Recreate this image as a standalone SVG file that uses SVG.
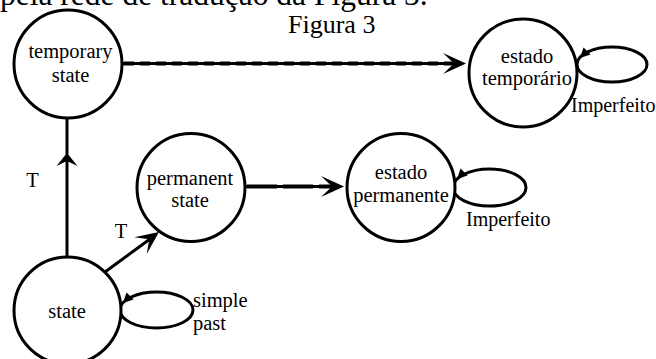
<svg xmlns="http://www.w3.org/2000/svg" width="656" height="359" viewBox="0 0 656 359">
<style>
  .node { fill: #fff; stroke: #000; stroke-width: 3; }
  .loop { fill: none; stroke: #000; stroke-width: 3; }
  .edge { fill: none; stroke: #000; stroke-width: 3; }
  .dash { fill: none; stroke: #000; stroke-width: 4; stroke-dasharray: 10 6; }
  .head { fill: #000; stroke: none; }
  .t { font-family: 'Liberation Serif', 'Times New Roman', serif; fill: #000; }
  .lbl { font-size: 20.5px; }
  .mid { text-anchor: middle; }
</style>
<defs>
  <path id="stealth" d="M0,0 L-23,-10.5 L-12,0 L-23,10.5 Z"/>
  <path id="midhead" d="M0,0 L-13,-10.5 L-8,0 L-13,10.5 Z"/>
  <path id="small" d="M0,0 L-10,-5 L-10,5 Z"/>
</defs>
<rect width="656" height="359" fill="#fff"/>
<text class="t" x="0" y="4.5" style="font-size:31.5px">pela rede de tradução da Figura 3.</text>
<text class="t" x="288" y="33" style="font-size:26px">Figura 3</text>

<g id="connectors">
  <line class="edge" x1="122" y1="63.5" x2="456" y2="63.5"/>
  <line class="dash" x1="124" y1="63.5" x2="454" y2="63.5"/>
  <use href="#stealth" class="head" transform="translate(466,63.5)"/>

  <line class="edge" x1="245" y1="186.5" x2="334" y2="186.5"/>
  <line class="dash" x1="247" y1="186.5" x2="332" y2="186.5" style="stroke-dasharray:30 6"/>
  <use href="#stealth" class="head" transform="translate(344,186.5)"/>

  <line class="edge" x1="67" y1="257" x2="67" y2="118"/>
  <use href="#midhead" class="head" transform="translate(67,153) rotate(-90)"/>

  <line class="edge" x1="105" y1="272" x2="150" y2="239"/>
  <use href="#stealth" class="head" transform="translate(159,232) rotate(-36.5)"/>

  <ellipse class="loop" cx="612" cy="64.5" rx="35" ry="17.5"/>
  <use href="#small" class="head" transform="translate(580,58) rotate(135)"/>
  <ellipse class="loop" cx="489.5" cy="187.5" rx="36.5" ry="18.5"/>
  <use href="#small" class="head" transform="translate(457,179) rotate(135)"/>
  <ellipse class="loop" cx="156.5" cy="310" rx="36.5" ry="18"/>
  <use href="#small" class="head" transform="translate(123,303) rotate(135)"/>

  <text class="t lbl mid" x="32.5" y="187">T</text>
  <text class="t lbl mid" x="121" y="238">T</text>
  <text class="t" x="571" y="112" style="font-size:20px">Imperfeito</text>
  <text class="t" x="466" y="226" style="font-size:20px">Imperfeito</text>
  <text class="t lbl" x="193" y="307">simple</text>
  <text class="t lbl" x="193" y="330">past</text>
</g>

<g id="temporary-state">
  <circle class="node" cx="68" cy="64" r="54"/>
  <text class="t lbl mid" x="70.5" y="58">temporary</text>
  <text class="t lbl mid" x="70.5" y="82">state</text>
</g>
<g id="estado-temporario">
  <circle class="node" cx="523" cy="73" r="54"/>
  <text class="t lbl mid" x="527" y="63">estado</text>
  <text class="t lbl mid" x="527" y="85">temporário</text>
</g>
<g id="permanent-state">
  <circle class="node" cx="191" cy="187.5" r="54"/>
  <text class="t lbl mid" x="190" y="185">permanent</text>
  <text class="t lbl mid" x="190" y="207">state</text>
</g>
<g id="estado-permanente">
  <circle class="node" cx="401" cy="187.5" r="54"/>
  <text class="t lbl mid" x="401" y="179">estado</text>
  <text class="t lbl mid" x="401" y="202">permanente</text>
</g>
<g id="state">
  <circle class="node" cx="67.5" cy="310.5" r="53.5"/>
  <text class="t lbl mid" x="67" y="318">state</text>
</g>
</svg>
